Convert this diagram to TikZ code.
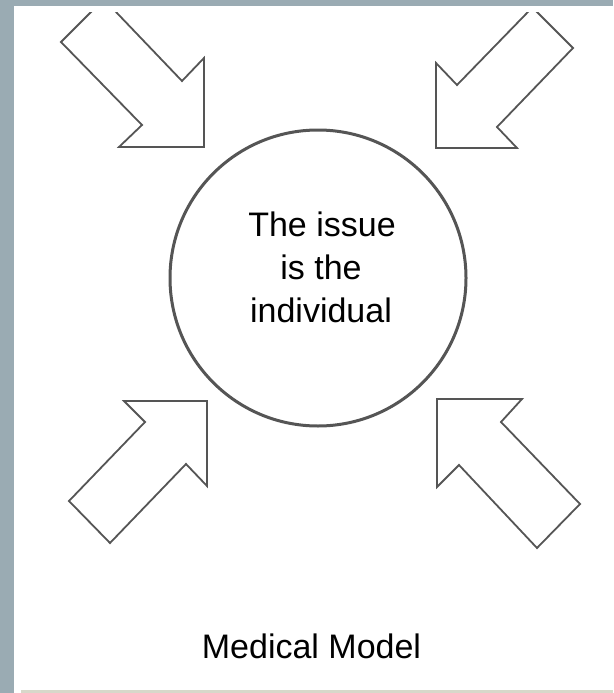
\documentclass[tikz,border=0pt]{standalone}
\usepackage{fontspec}
\setmainfont{Liberation Sans}
\definecolor{framegray}{HTML}{9AABB3}
\definecolor{edgegray}{HTML}{555555}
\definecolor{rulegray}{HTML}{D8D8CA}
\begin{document}
\begin{tikzpicture}[x=1pt,y=-1pt,
  arrowshape/.style={draw=edgegray, line width=1.8pt, line join=miter, fill=white},
  ringshape/.style={draw=edgegray, line width=3pt, circle, minimum size=296pt, inner sep=0pt},
  bigtext/.style={font=\fontsize{34}{43}\selectfont, inner sep=0pt, anchor=base, text=black}]
\useasboundingbox (0,0) rectangle (613,693);
\fill[white] (0,0) rectangle (613,693);
\fill[framegray] (0,0) rectangle (613,6);
\fill[framegray] (0,0) rectangle (14,693);
\fill[rulegray] (21,690) rectangle (613,693);
% arrows
\begin{scope}
  \clip (14,13) rectangle (613,693);
  \draw[arrowshape] (61,42) -- (103.8,-0.8) -- (182,81) -- (204,58) -- (204,147) -- (119,147) -- (142,125) -- cycle;
  \draw[arrowshape] (573,48) -- (532.4,7.4) -- (457,85) -- (436,63) -- (436,148) -- (517,148) -- (497,127) -- cycle;
\end{scope}
\draw[arrowshape] (124,401) -- (207,401) -- (207,486) -- (186,464) -- (110,543) -- (69,501) -- (145,422) -- cycle;
\draw[arrowshape] (437,399) -- (522,399) -- (501,422) -- (580,504) -- (537,548) -- (459,465) -- (437,487) -- cycle;
% circle
\node[ringshape] (issue) at (318,278) {};
\node[bigtext] (line1) at (322,236) {The issue};
\node[bigtext] (line2) at (321,279) {is the};
\node[bigtext] (line3) at (321,322) {individual};
\node[bigtext] (title) at (311.5,658) {Medical Model};
\end{tikzpicture}
\end{document}
